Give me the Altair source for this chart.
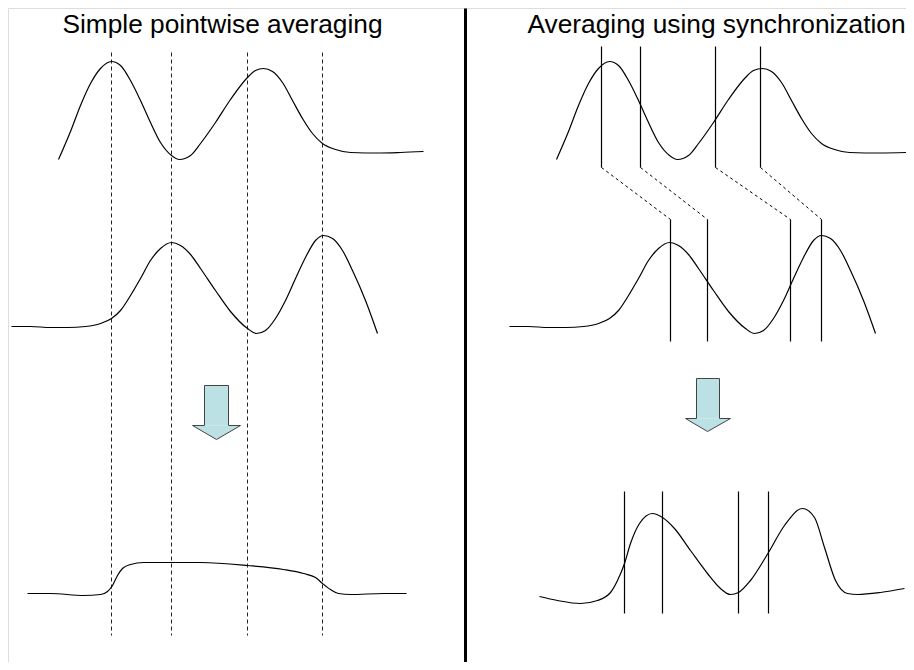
import altair as alt
import pandas as pd

# ---- titles ----
titles = ["Simple pointwise averaging", "Averaging using synchronization"]
title_x = [222, 716]
title_y = [32, 32]

# ---- curves (pixel coords) ----
lt_x = [58, 70, 80, 90, 100, 111, 120, 130, 140, 150, 160, 171, 179, 190, 200, 215, 230, 247, 255, 263, 272, 282, 292, 302, 312, 322, 335, 350, 380, 400, 423]
lt_y = [159, 131, 105, 83, 68, 61, 65, 80, 100, 122, 142, 155, 159, 155, 143, 122, 99, 77, 70, 68, 71, 82, 100, 118, 133, 143, 149, 152, 152.5, 152, 151]

lm_x = [11, 30, 50, 67, 85, 100, 111, 120, 130, 140, 150, 160, 171, 180, 190, 200, 215, 230, 247, 256, 265, 275, 285, 295, 305, 315, 323, 332, 342, 352, 365, 377]
lm_y = [326, 326, 327, 327, 326, 323, 318, 310, 295, 278, 260, 248, 242, 245, 254, 268, 290, 311, 328, 333, 330, 318, 300, 278, 257, 240, 235, 238, 250, 270, 300, 333]

lb_x = [27, 50, 83, 100, 107, 112, 117, 122, 130, 143, 171, 200, 247, 283, 303, 315, 322, 330, 338, 350, 383, 406]
lb_y = [593, 593, 595, 594, 591, 585, 575, 568, 564, 562, 562, 562, 565, 569, 573, 577, 583, 589, 593, 594, 593, 593]

rt_x = [556, 568, 578, 588, 598, 609, 618, 628, 638, 648, 658, 669, 677, 688, 698, 713, 728, 745, 753, 762, 771, 781, 791, 801, 811, 821, 834, 849, 879, 906]
rt_y = [159, 131, 105, 83, 68, 61, 65, 80, 100, 122, 142, 155, 159, 155, 143, 122, 99, 77, 70, 68, 71, 82, 100, 118, 133, 143, 149, 152, 152.5, 152]

rm_x = [509, 528, 548, 565, 583, 598, 609, 618, 628, 638, 648, 658, 669, 678, 688, 698, 713, 728, 745, 754, 763, 773, 783, 793, 803, 813, 821, 830, 840, 850, 863, 875]
rm_y = [326, 326, 327, 327, 326, 323, 318, 310, 295, 278, 260, 248, 242, 245, 254, 268, 290, 311, 328, 333, 330, 318, 300, 278, 257, 240, 235, 238, 250, 270, 300, 333]

rb_x = [539, 557, 580, 597, 610, 617, 624, 630, 639, 652, 662, 674, 690, 707, 720, 730, 738, 750, 768, 784, 802, 814, 824, 835, 847, 857, 880, 904]
rb_y = [596, 600, 603, 600, 592, 580, 563, 543, 523, 513, 517, 528, 550, 573, 588, 594, 592, 580, 552, 525, 508, 517, 547, 580, 593, 594, 592, 588]

# ---- vertical guide lines ----
dash_x = [111, 171, 247, 322]
dash_y1, dash_y2 = 52, 635

rtop_x = [601, 640, 715, 760]
rtop_y1, rtop_y2 = 46, 167
rmid_x = [670, 707, 790, 821]
rmid_y1, rmid_y2 = 219, 341
rbot_x = [624, 662, 738, 768]
rbot_y1, rbot_y2 = 491, 613

divider_x = [465]
divider_y1, divider_y2 = 8, 670

# ---- arrows: shaft (left, right, top, bottom) and head (left, right, tip x, tip y) ----
shaft_l = [204, 696]
shaft_r = [228, 719]
shaft_t = [385, 378]
shaft_b = [425, 418]
head_l = [192, 685]
head_r = [240, 730]
tip_x = [216, 707]
tip_y = [439, 431]

# ---- build tables ----
def curve_df(name, xs, ys):
    return pd.DataFrame({"x": xs, "y": ys, "curve": name, "i": range(len(xs))})

curves = pd.concat([
    curve_df("lt", lt_x, lt_y), curve_df("lm", lm_x, lm_y), curve_df("lb", lb_x, lb_y),
    curve_df("rt", rt_x, rt_y), curve_df("rm", rm_x, rm_y), curve_df("rb", rb_x, rb_y),
])

dashed = pd.DataFrame({"x": dash_x, "y": dash_y1, "y2": dash_y2})
solid = pd.concat([
    pd.DataFrame({"x": rtop_x, "y": rtop_y1, "y2": rtop_y2}),
    pd.DataFrame({"x": rmid_x, "y": rmid_y1, "y2": rmid_y2}),
    pd.DataFrame({"x": rbot_x, "y": rbot_y1, "y2": rbot_y2}),
])
connectors = pd.DataFrame({"x": rtop_x, "y": rtop_y2, "x2": rmid_x, "y2": rmid_y1})
divider = pd.DataFrame({"x": divider_x, "y": divider_y1, "y2": divider_y2})

shafts = pd.DataFrame({"x": shaft_l, "x2": shaft_r, "y": shaft_t, "y2": shaft_b})
heads_rows, outline_rows = [], []
for k in range(len(shaft_l)):
    a = f"a{k}"
    heads_rows += [
        {"a": a, "x": head_l[k], "y": shaft_b[k], "y2": shaft_b[k]},
        {"a": a, "x": tip_x[k], "y": shaft_b[k], "y2": tip_y[k]},
        {"a": a, "x": head_r[k], "y": shaft_b[k], "y2": shaft_b[k]},
    ]
    pts = [(shaft_l[k], shaft_t[k]), (shaft_r[k], shaft_t[k]), (shaft_r[k], shaft_b[k]),
           (head_r[k], shaft_b[k]), (tip_x[k], tip_y[k]), (head_l[k], shaft_b[k]),
           (shaft_l[k], shaft_b[k]), (shaft_l[k], shaft_t[k])]
    for i, (px, py) in enumerate(pts):
        outline_rows.append({"a": a, "i": i, "x": px, "y": py})
heads = pd.DataFrame(heads_rows)
outline = pd.DataFrame(outline_rows)

text_df = pd.DataFrame({"x": title_x, "y": title_y, "t": titles})

W, H = 898, 654
xs = alt.Scale(domain=[7.5, 7.5 + W], nice=False, zero=False)
ys = alt.Scale(domain=[7.5, 7.5 + H], nice=False, zero=False, reverse=True)
X = lambda f: alt.X(f, type="quantitative", scale=xs, axis=None)
Y = lambda f: alt.Y(f, type="quantitative", scale=ys, axis=None)

ARROW_FILL = "#BCE1E4"

curve_layer = alt.Chart(curves).mark_line(
    color="black", strokeWidth=1.2, interpolate="monotone", clip=True
).encode(x=X("x"), y=Y("y"), detail="curve:N", order="i:Q")

dash_layer = alt.Chart(dashed).mark_rule(
    color="#222222", strokeWidth=1, strokeDash=[4, 3]
).encode(x=X("x"), y=Y("y"), y2="y2")

solid_layer = alt.Chart(solid).mark_rule(
    color="black", strokeWidth=1.2
).encode(x=X("x"), y=Y("y"), y2="y2")

conn_layer = alt.Chart(connectors).mark_rule(
    color="black", strokeWidth=1, strokeDash=[3, 3]
).encode(x=X("x"), y=Y("y"), x2="x2", y2="y2")

div_layer = alt.Chart(divider).mark_rule(
    color="black", strokeWidth=3
).encode(x=X("x"), y=Y("y"), y2="y2")

shaft_layer = alt.Chart(shafts).mark_rect(
    color=ARROW_FILL, opacity=1
).encode(x=X("x"), x2="x2", y=Y("y"), y2="y2")

head_layer = alt.Chart(heads).mark_area(
    color=ARROW_FILL, opacity=1, interpolate="linear"
).encode(x=X("x"), y=Y("y"), y2="y2", detail="a:N")

outline_layer = alt.Chart(outline).mark_line(
    color="#444444", strokeWidth=1, interpolate="linear"
).encode(x=X("x"), y=Y("y"), detail="a:N", order="i:Q")

text_layer = alt.Chart(text_df).mark_text(
    font="Liberation Sans", fontSize=26.3, color="black", align="center", baseline="alphabetic"
).encode(x=X("x"), y=Y("y"), text="t:N")

chart = alt.layer(
    dash_layer, div_layer, shaft_layer, head_layer, outline_layer,
    curve_layer, solid_layer, conn_layer, text_layer
).properties(
    width=W, height=H, padding=0, autosize=alt.AutoSizeParams(type="none")
).configure_view(stroke=None).configure(background="white")

chart.save("out.html", embed_options={"renderer": "svg", "actions": False})
